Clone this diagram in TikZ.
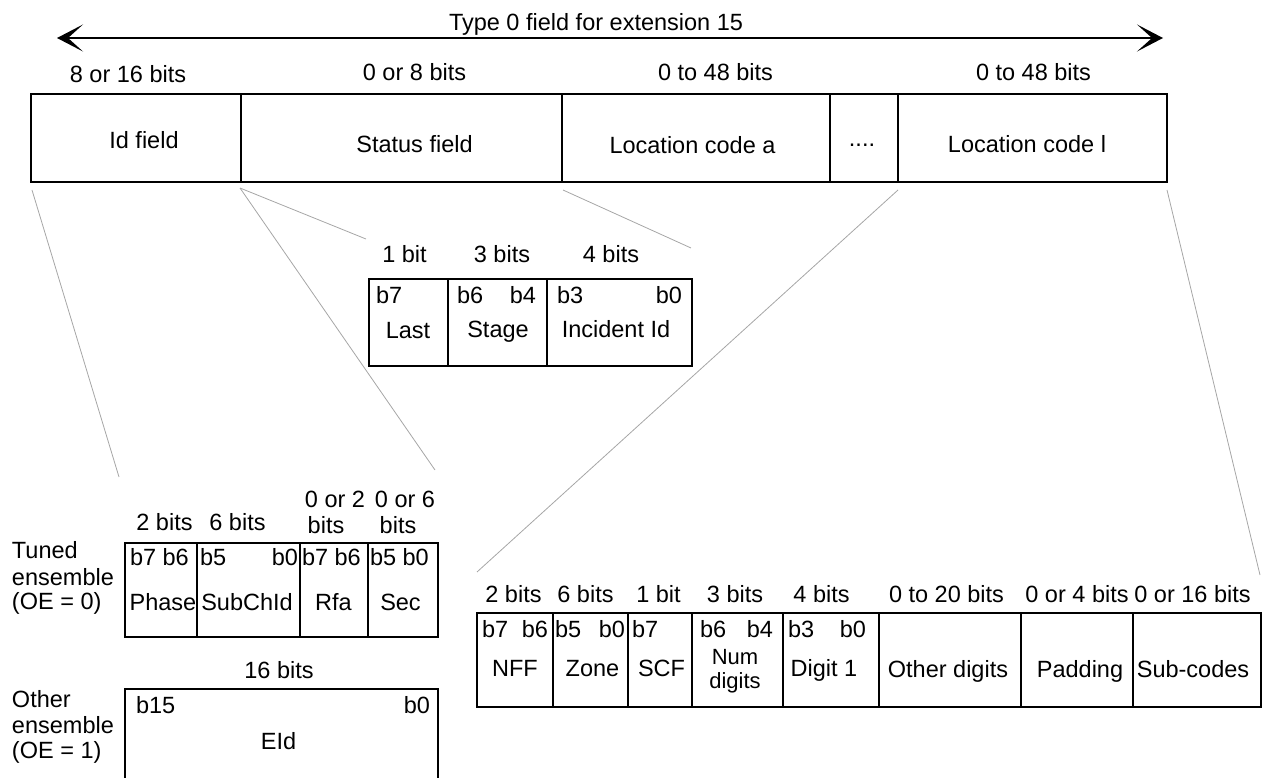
\documentclass[tikz,border=0pt]{standalone}
\usepackage{fontspec}
\setmainfont{Liberation Sans}
\usetikzlibrary{arrows.meta}
\begin{document}
\begin{tikzpicture}[x=1pt,y=-1pt,
  txt/.style={inner sep=0pt, outer sep=0pt, font=\fontsize{23.5}{26}\selectfont},
  lbl/.style={txt, anchor=base},
  lw/.style={txt, anchor=base west},
  le/.style={txt, anchor=base east},
  cell/.style 2 args={draw, line width=1.9pt, rectangle, inner sep=0pt, outer sep=0pt,
    anchor=north west, minimum width=#1pt, minimum height=#2pt},
  conn/.style={draw=gray!70, line width=0.8pt},
  dimarrow/.style={line width=2pt, {Stealth[length=26pt,width=27pt,inset=15pt]}-{Stealth[length=26pt,width=27pt,inset=15pt]}}
  ]
\useasboundingbox (0,0) rectangle (1263,778);

% ---------- top dimension arrow ----------
\coordinate (arrL) at (57,38);
\coordinate (arrR) at (1163,38);
\draw[dimarrow] (arrL) -- (arrR);
\node[lbl] (title) at (596,31) {Type 0 field for extension 15};

% ---------- main field ----------
\node[cell={210}{88}] (idf) at (31,94) {};
\node[cell={321}{88}] (stf) at (241,94) {};
\node[cell={268}{88}] (lca) at (562,94) {};
\node[cell={68}{88}]  (dts) at (830,94) {};
\node[cell={269}{88}] (lcl) at (898,94) {};

\node[lbl] (bid) at (128,83) {8 or 16 bits};
\node[lbl] (bst) at (414.5,81) {0 or 8 bits};
\node[lbl] (bla) at (715.5,81) {0 to 48 bits};
\node[lbl] (bll) at (1033.5,81) {0 to 48 bits};

\node[lbl] (tid) at (144,149) {Id field};
\node[lbl] (tst) at (414.5,153) {Status field};
\node[lbl] (tla) at (692.5,154) {Location code a};
\node[lbl] (tdt) at (862,147) {....};
\node[lbl] (tll) at (1027,153) {Location code l};

% ---------- status sub-field ----------
\node[cell={79}{87}]  (slast) at (369,279) {};
\node[cell={99}{87}]  (sstage) at (448,279) {};
\node[cell={145}{87}] (sinc) at (547,279) {};

\node[lbl] (s1) at (404.5,262) {1 bit};
\node[lbl] (s2) at (502,262) {3 bits};
\node[lbl] (s3) at (611,262) {4 bits};
\node[lw] (sb7) at (376,303) {b7};
\node[lw] (sb6) at (457,303) {b6};
\node[le] (sb4) at (536,303) {b4};
\node[lw] (sb3) at (557,303) {b3};
\node[le] (sb0) at (682,303) {b0};
\node[lbl] (slastt) at (408,338) {Last};
\node[lbl] (sstaget) at (498,337) {Stage};
\node[lbl] (sinct) at (616,337) {Incident Id};

% ---------- tuned ensemble ----------
\node[lw] (tu1) at (12,558) {Tuned};
\node[lw] (tu2) at (12,585) {ensemble};
\node[lw] (tu3) at (12,609) {(OE = 0)};

\node[cell={72}{94}]  (tph) at (125,543) {};
\node[cell={103}{94}] (tsc) at (197,543) {};
\node[cell={68}{94}]  (trf) at (300,543) {};
\node[cell={70}{94}]  (tse) at (368,543) {};

\node[lbl] (tb1) at (164.5,530) {2 bits};
\node[lbl] (tb2) at (237.5,530) {6 bits};
\node[lbl] (tb3a) at (335,507) {0 or 2};
\node[lbl] (tb3b) at (326,533) {bits};
\node[lbl] (tb4a) at (405,507) {0 or 6};
\node[lbl] (tb4b) at (398,533) {bits};

\node[lw] (tr1) at (130,565) {b7 b6};
\node[lw] (tr2) at (200,565) {b5};
\node[le] (tr3) at (298,565) {b0};
\node[lw] (tr4) at (302,565) {b7 b6};
\node[lw] (tr5) at (370,565) {b5 b0};

\node[lbl] (tphn) at (163,610) {Phase};
\node[lbl] (tscn) at (247,610) {SubChId};
\node[lbl] (trfn) at (333.5,610) {Rfa};
\node[lbl] (tsen) at (400.5,610) {Sec};

% ---------- other ensemble ----------
\node[lw] (ot1) at (12,707) {Other};
\node[lw] (ot2) at (12,733) {ensemble};
\node[lw] (ot3) at (12,758) {(OE = 1)};

\node[lbl] (eb) at (279,678) {16 bits};
\node[cell={313}{100}] (eid) at (125,689) {};
\node[lw] (eb15) at (136,713) {b15};
\node[le] (eb0) at (430,713) {b0};
\node[lbl] (eidn) at (278.5,749) {EId};

% ---------- location code ----------
\node[cell={76}{94}]  (lnff) at (477,613) {};
\node[cell={75}{94}]  (lzone) at (553,613) {};
\node[cell={64}{94}]  (lscf) at (628,613) {};
\node[cell={91}{94}]  (lnum) at (692,613) {};
\node[cell={96}{94}]  (ldig) at (783,613) {};
\node[cell={142}{94}] (loth) at (879,613) {};
\node[cell={112}{94}] (lpad) at (1021,613) {};
\node[cell={128}{94}] (lsub) at (1133,613) {};

\node[lbl] (lb1) at (513.5,602) {2 bits};
\node[lbl] (lb2) at (585.5,602) {6 bits};
\node[lbl] (lb3) at (658.5,602) {1 bit};
\node[lbl] (lb4) at (735,602) {3 bits};
\node[lbl] (lb5) at (821.5,602) {4 bits};
\node[lbl] (lb6) at (946.5,602) {0 to 20 bits};
\node[lbl] (lb7) at (1077,602) {0 or 4 bits};
\node[lbl] (lb8) at (1192.5,602) {0 or 16 bits};

\node[lw] (lr1) at (482,637) {b7};
\node[le] (lr2) at (548,637) {b6};
\node[lw] (lr3) at (555,637) {b5};
\node[le] (lr4) at (625,637) {b0};
\node[lw] (lr5) at (632,637) {b7};
\node[lw] (lr6) at (700,637) {b6};
\node[le] (lr7) at (773,637) {b4};
\node[lw] (lr8) at (788,637) {b3};
\node[le] (lr9) at (866,637) {b0};

\node[lbl] (lnffn) at (515,676) {NFF};
\node[lbl] (lzonen) at (592.5,676) {Zone};
\node[lbl] (lscfn) at (661.5,676) {SCF};
\node[lbl, font=\fontsize{22}{24}\selectfont] (lnumn1) at (735,664) {Num};
\node[lbl, font=\fontsize{22}{24}\selectfont] (lnumn2) at (735,688) {digits};
\node[lbl] (ldign) at (824,676) {Digit 1};
\node[lbl] (lothn) at (948,677) {Other digits};
\node[lbl] (lpadn) at (1080,677) {Padding};
\node[lbl] (lsubn) at (1193,677) {Sub-codes};

% ---------- expansion connectors ----------
\coordinate (c1a) at (32,190);   \coordinate (c1b) at (119,477);
\coordinate (c2a) at (240,188);  \coordinate (c2b) at (435,470);
\coordinate (c3b) at (366,239);
\coordinate (c4a) at (563,190);  \coordinate (c4b) at (691,248);
\coordinate (c5a) at (898,190);  \coordinate (c5b) at (477,572);
\coordinate (c6a) at (1167,190); \coordinate (c6b) at (1260,575);
\draw[conn] (c1a) -- (c1b);
\draw[conn] (c2a) -- (c2b);
\draw[conn] (c2a) -- (c3b);
\draw[conn] (c4a) -- (c4b);
\draw[conn] (c5a) -- (c5b);
\draw[conn] (c6a) -- (c6b);
\end{tikzpicture}
\end{document}
